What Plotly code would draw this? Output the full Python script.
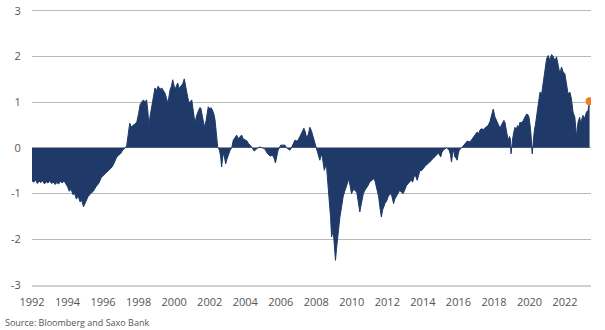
import plotly.graph_objects as go

years = [
    1992.0, 1992.1, 1992.2, 1992.3, 1992.4, 1992.5, 1992.6, 1992.7, 1992.8, 1992.9,
    1993.0, 1993.1, 1993.2, 1993.3, 1993.4, 1993.5, 1993.6, 1993.7, 1993.8, 1993.9,
    1994.0, 1994.1, 1994.2, 1994.3, 1994.4, 1994.5, 1994.6, 1994.7, 1994.8, 1994.9,
    1995.0, 1995.15, 1995.3, 1995.45, 1995.6, 1995.75, 1995.9, 1996.0, 1996.15, 1996.3,
    1996.5, 1996.6, 1996.77, 1996.9, 1997.0, 1997.1, 1997.25,
    1997.33, 1997.45, 1997.5, 1997.6, 1997.7, 1997.8, 1997.9, 1998.0, 1998.08, 1998.17,
    1998.27, 1998.37, 1998.45, 1998.52, 1998.58, 1998.65, 1998.73, 1998.82, 1998.92, 1999.0,
    1999.1, 1999.2, 1999.3, 1999.4, 1999.48, 1999.56, 1999.64, 1999.7, 1999.77, 1999.85,
    1999.92, 2000.0, 2000.05, 2000.12, 2000.2, 2000.28, 2000.38, 2000.48, 2000.57, 2000.63,
    2000.7, 2000.77, 2000.84, 2000.92, 2000.99, 2001.08, 2001.17, 2001.26, 2001.36, 2001.44,
    2001.5, 2001.6, 2001.7, 2001.8, 2001.92, 2002.0, 2002.08, 2002.15, 2002.23, 2002.3,
    2002.38, 2002.45,
    2002.55, 2002.62, 2002.67, 2002.72, 2002.76, 2002.83, 2002.9, 2002.97, 2003.05, 2003.15,
    2003.24, 2003.33, 2003.42, 2003.52, 2003.6, 2003.7, 2003.8, 2003.88, 2003.98, 2004.1,
    2004.18, 2004.27, 2004.4, 2004.5, 2004.6, 2004.68, 2004.83, 2004.98, 2005.1, 2005.24,
    2005.4, 2005.53, 2005.62, 2005.7, 2005.78, 2005.85, 2006.0, 2006.24, 2006.33, 2006.45,
    2006.52, 2006.6, 2006.67, 2006.8, 2006.9, 2006.98, 2007.08, 2007.18, 2007.3, 2007.38,
    2007.46, 2007.55, 2007.64, 2007.72, 2007.83, 2007.9, 2008.0,
    2008.08, 2008.2, 2008.27, 2008.34, 2008.45, 2008.52, 2008.58, 2008.65, 2008.71, 2008.8,
    2008.86, 2008.95, 2009.02, 2009.08, 2009.14, 2009.2, 2009.27, 2009.33, 2009.42, 2009.51,
    2009.6, 2009.7, 2009.77, 2009.83, 2009.9, 2009.98, 2010.05, 2010.13, 2010.2, 2010.26,
    2010.35, 2010.45, 2010.52, 2010.58, 2010.65, 2010.73, 2010.82, 2010.92, 2011.0, 2011.1,
    2011.18, 2011.25, 2011.32, 2011.38, 2011.45, 2011.51, 2011.58, 2011.66, 2011.74, 2011.81,
    2011.88, 2011.94, 2012.0, 2012.07, 2012.15, 2012.22, 2012.28, 2012.35, 2012.42, 2012.5,
    2012.6, 2012.69, 2012.8, 2012.89, 2013.0, 2013.08, 2013.18, 2013.27,
    2013.35, 2013.42, 2013.55, 2013.62, 2013.68, 2013.76, 2013.83, 2013.92, 2014.02, 2014.1,
    2014.17, 2014.3, 2014.4, 2014.49, 2014.58, 2014.68, 2014.78, 2014.86, 2014.93, 2015.0,
    2015.07, 2015.14, 2015.25, 2015.33, 2015.48, 2015.55, 2015.61, 2015.66, 2015.7, 2015.75,
    2015.8, 2015.87, 2015.93, 2015.98, 2016.04, 2016.18, 2016.27, 2016.37, 2016.5, 2016.65,
    2016.8, 2016.93, 2017.06, 2017.14, 2017.21, 2017.3, 2017.4, 2017.5, 2017.59, 2017.68,
    2017.77, 2017.87, 2017.96, 2018.05, 2018.12, 2018.18, 2018.26, 2018.34, 2018.42, 2018.49,
    2018.56, 2018.62,
    2018.71, 2018.8, 2018.87, 2018.92, 2018.96, 2019.0, 2019.05, 2019.12, 2019.18, 2019.25,
    2019.33, 2019.4, 2019.46, 2019.55, 2019.65, 2019.75, 2019.84, 2019.92, 2019.97, 2020.03,
    2020.08, 2020.15, 2020.2, 2020.27, 2020.33, 2020.4, 2020.49, 2020.55, 2020.59, 2020.68,
    2020.77, 2020.82, 2020.87, 2020.92, 2020.96, 2021.05, 2021.14, 2021.2, 2021.24, 2021.33,
    2021.43, 2021.52, 2021.61, 2021.71, 2021.8, 2021.89, 2021.99, 2022.08, 2022.17, 2022.27,
    2022.36, 2022.45, 2022.55, 2022.6, 2022.64, 2022.68, 2022.73, 2022.82, 2022.88, 2022.92,
    2023.01, 2023.1, 2023.2, 2023.29, 2023.38,
]

values = [
    -0.72, -0.75, -0.70, -0.78, -0.73, -0.76, -0.72, -0.79, -0.74, -0.77,
    -0.72, -0.78, -0.75, -0.80, -0.76, -0.79, -0.73, -0.77, -0.72, -0.78,
    -0.85, -0.95, -0.90, -1.02, -1.00, -1.12, -1.05, -1.18, -1.15, -1.29,
    -1.20, -1.07, -1.00, -0.95, -0.85, -0.78, -0.65, -0.60, -0.55, -0.50,
    -0.42, -0.35, -0.20, -0.15, -0.12, -0.05, 0.00,
    0.05, 0.45, 0.54, 0.45, 0.50, 0.52, 0.57, 0.75, 0.94, 1.00,
    1.05, 1.00, 1.05, 0.80, 0.50, 0.70, 0.90, 1.15, 1.31, 1.25,
    1.35, 1.28, 1.31, 1.25, 1.20, 1.10, 0.98, 1.10, 1.27, 1.35,
    1.49, 1.35, 1.27, 1.35, 1.42, 1.30, 1.35, 1.40, 1.51, 1.35,
    1.24, 1.10, 0.98, 1.02, 1.05, 0.80, 0.54, 0.70, 0.83, 0.88,
    0.87, 0.70, 0.46, 0.60, 0.90, 0.85, 0.88, 0.83, 0.75, 0.61,
    0.35, 0.02,
    -0.05, -0.20, -0.42, -0.20, -0.12, -0.20, -0.35, -0.25, -0.16, -0.05,
    0.00, 0.17, 0.22, 0.28, 0.20, 0.23, 0.28, 0.20, 0.17, 0.15,
    0.10, 0.06, 0.00, -0.07, -0.03, -0.01, 0.02, -0.01, -0.02, -0.12,
    -0.18, -0.16, -0.22, -0.33, -0.15, -0.05, 0.06, 0.06, 0.00, -0.03,
    -0.05, 0.00, 0.06, 0.17, 0.15, 0.17, 0.25, 0.35, 0.43, 0.35,
    0.21, 0.30, 0.45, 0.38, 0.24, 0.15, 0.00,
    -0.09, -0.27, -0.15, -0.20, -0.49, -0.40, -0.42, -0.70, -1.07, -1.50,
    -1.95, -1.80, -2.10, -2.46, -2.20, -1.95, -1.75, -1.51, -1.30, -1.07,
    -0.95, -0.85, -0.75, -0.67, -0.80, -1.00, -0.95, -0.89, -0.95, -0.93,
    -1.15, -1.40, -1.25, -1.11, -1.00, -0.93, -0.88, -0.82, -0.75, -0.71,
    -0.68, -0.67, -0.75, -0.85, -0.95, -1.07, -1.30, -1.51, -1.35, -1.26,
    -1.20, -1.18, -1.10, -1.04, -1.02, -1.00, -1.10, -1.22, -1.12, -1.07,
    -1.00, -0.93, -0.97, -1.00, -0.90, -0.82, -0.78, -0.74,
    -0.70, -0.75, -0.57, -0.65, -0.71, -0.60, -0.49, -0.50, -0.45, -0.42,
    -0.38, -0.34, -0.30, -0.27, -0.24, -0.20, -0.15, -0.12, -0.15, -0.20,
    -0.10, -0.05, -0.02, 0.00, -0.05, -0.15, -0.31, -0.15, -0.05, -0.10,
    -0.20, -0.22, -0.27, -0.15, -0.05, 0.00, 0.05, 0.10, 0.15, 0.13,
    0.21, 0.28, 0.35, 0.30, 0.39, 0.42, 0.40, 0.44, 0.46, 0.50,
    0.57, 0.72, 0.85, 0.68, 0.62, 0.57, 0.50, 0.43, 0.50, 0.57,
    0.60, 0.55,
    0.38, 0.16, 0.25, 0.20, -0.13, 0.10, 0.20, 0.35, 0.45, 0.40,
    0.49, 0.45, 0.56, 0.55, 0.60, 0.68, 0.74, 0.72, 0.67, 0.50,
    0.31, -0.13, 0.10, 0.38, 0.50, 0.67, 0.89, 1.05, 1.22, 1.17,
    1.40, 1.55, 1.69, 1.85, 1.95, 2.02, 1.91, 2.00, 2.04, 2.00,
    1.91, 1.99, 1.77, 1.62, 1.77, 1.66, 1.62, 1.36, 1.18, 1.22,
    1.07, 0.78, 0.67, 0.45, 0.23, 0.40, 0.56, 0.67, 0.55, 0.60,
    0.71, 0.64, 0.78, 0.82, 1.02,
]

x_ticks = list(range(1992, 2023, 2))
y_ticks = [-3, -2, -1, 0, 1, 2, 3]
source_text = "Source: Bloomberg and Saxo Bank"

navy = "#1f3a68"
orange = "#f07f22"

fig = go.Figure()
fig.add_trace(go.Scatter(
    x=years, y=values, mode="lines", fill="tozeroy",
    line=dict(color=navy, width=1), fillcolor=navy,
    hoverinfo="skip", showlegend=False,
))
fig.add_trace(go.Scatter(
    x=[years[-1]], y=[values[-1]], mode="markers",
    marker=dict(color=orange, size=8), showlegend=False,
))

fig.update_layout(
    width=605, height=330,
    margin=dict(l=32, r=14, t=8, b=45, autoexpand=False),
    paper_bgcolor="white", plot_bgcolor="white",
    font=dict(family="Open Sans, Arial, sans-serif", size=11, color="#555555"),
    xaxis=dict(
        range=[1992, 2023.46], tickvals=x_ticks, ticktext=[str(t) for t in x_ticks],
        showgrid=False, zeroline=False, showline=True, linecolor="#cfcfcf", linewidth=2,
        ticks="outside", ticklen=6, tickcolor="white",
        tickfont=dict(size=11, color="#555555"),
    ),
    yaxis=dict(
        range=[-3, 3.06], tickvals=y_ticks, ticktext=[str(t) for t in y_ticks],
        showgrid=True, gridcolor="#b8b8b8", gridwidth=1, zeroline=False,
        ticks="outside", ticklen=8, tickcolor="white",
        tickfont=dict(size=11, color="#555555"),
    ),
    annotations=[dict(
        text=source_text, xref="paper", yref="paper", x=0, y=0,
        xanchor="left", yanchor="middle", xshift=-29, yshift=-37,
        showarrow=False, font=dict(size=9, color="#555555"),
    )],
)

fig.write_html("out.html")
